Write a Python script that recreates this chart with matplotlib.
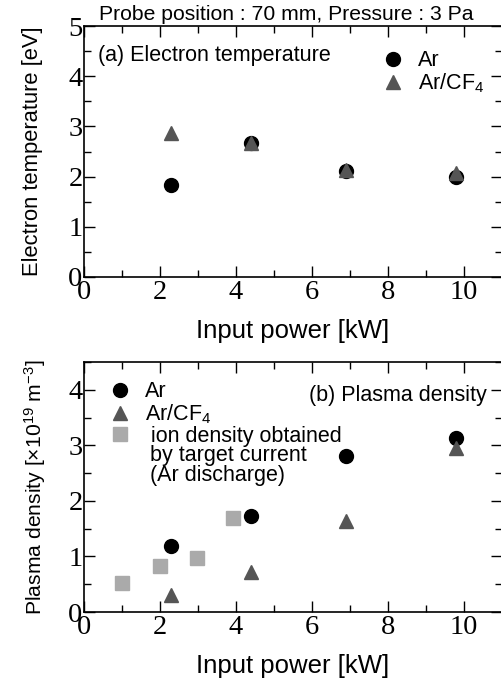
import matplotlib
matplotlib.use("Agg")
import matplotlib.pyplot as plt
from matplotlib.ticker import MultipleLocator

plt.rcParams['font.family'] = ['Liberation Sans', 'DejaVu Sans']
plt.rcParams['mathtext.fontset'] = 'custom'
plt.rcParams['mathtext.rm'] = 'Liberation Sans'
plt.rcParams['mathtext.it'] = 'Liberation Sans'
plt.rcParams['mathtext.default'] = 'regular'

# ---- data ----
power_probe = [2.3, 4.4, 6.9, 9.8]
te_ar = [1.84, 2.67, 2.11, 1.99]
te_arcf4 = [2.87, 2.67, 2.14, 2.07]

ne_ar = [1.19, 1.72, 2.80, 3.14]
ne_arcf4 = [0.30, 0.72, 1.63, 2.96]

power_target = [1.0, 2.0, 2.97, 3.92]
ni_target = [0.53, 0.82, 0.97, 1.69]

title_text = "Probe position : 70 mm, Pressure : 3 Pa"
xlabel_text = "Input power [kW]"
ylabel_top = "Electron temperature [eV]"
ylabel_bot = r"Plasma density [$\times$10$^{19}$ m$^{-3}$]"
sq_label_lines = [" ion density obtained", "by target current", "(Ar discharge)"]

c_ar = 'black'
c_cf4 = '#555555'
c_sq = '#aaaaaa'

W, H = 502, 682
fig = plt.figure(figsize=(W/100, H/100), dpi=100)
left = 84 / W
width = 418 / W
ax1 = fig.add_axes([left, 1 - 277/H, width, 251/H])
ax2 = fig.add_axes([left, 1 - 612/H, width, 250/H])

ms = 10
serif = ['Liberation Serif', 'DejaVu Serif']
fs_txt = 15.5

def style(ax, ymax):
    ax.set_xlim(0, 11)
    ax.set_ylim(0, ymax)
    ax.xaxis.set_major_locator(MultipleLocator(2))
    ax.xaxis.set_minor_locator(MultipleLocator(1))
    ax.yaxis.set_major_locator(MultipleLocator(1))
    ax.yaxis.set_minor_locator(MultipleLocator(0.5))
    ax.tick_params(which='both', direction='in', top=True, right=True, width=1.0)
    ax.tick_params(which='major', length=8)
    ax.tick_params(which='minor', length=5)
    ax.tick_params(axis='x', which='major', pad=2)
    ax.tick_params(axis='y', which='major', pad=1)
    for lab in ax.get_xticklabels() + ax.get_yticklabels():
        lab.set_fontfamily(serif)
        lab.set_fontsize(20.5)
    for s in ax.spines.values():
        s.set_linewidth(1.2)
    ax.set_xlabel(xlabel_text, fontsize=18.5, labelpad=10)

# ---- top ----
ax1.plot(power_probe, te_ar, 'o', color=c_ar, ms=ms, label='Ar', linestyle='none')
ax1.plot(power_probe, te_arcf4, '^', color=c_cf4, ms=ms, label='Ar/CF$_4$', linestyle='none')
style(ax1, 5)
ax1.set_ylabel(ylabel_top, fontsize=15.8, labelpad=18)
ax1.text(0.033, 0.884, "(a) Electron temperature", transform=ax1.transAxes, fontsize=fs_txt, va='center')
ax1.legend(loc='upper left', bbox_to_anchor=(0.682, 0.947), frameon=False, fontsize=fs_txt,
           handletextpad=0.55, labelspacing=0.02, borderpad=0, handlelength=1.2)
fig.text(286/W, 1 - 15/H, title_text, fontsize=15.2, ha='center', va='center')

# ---- bottom ----
ax2.plot(power_probe, ne_ar, 'o', color=c_ar, ms=ms, label='Ar', linestyle='none')
ax2.plot(power_probe, ne_arcf4, '^', color=c_cf4, ms=ms, label='Ar/CF$_4$', linestyle='none')
ax2.plot(power_target, ni_target, 's', color=c_sq, ms=ms, label=sq_label_lines[0], linestyle='none')
style(ax2, 4.5)
ax2.set_ylabel(ylabel_bot, fontsize=15.2, labelpad=15)
ax2.text(0.964, 0.868, "(b) Plasma density", transform=ax2.transAxes, fontsize=fs_txt, va='center', ha='right')
ax2.legend(loc='upper left', bbox_to_anchor=(0.029, 0.966), frameon=False, fontsize=fs_txt,
           handletextpad=0.55, labelspacing=0.0, borderpad=0, handlelength=1.2)
for line_text, ypix in zip(sq_label_lines[1:], [455, 476]):
    ax2.text((150 - 84) / 418, (612 - ypix) / 250, line_text,
             transform=ax2.transAxes, fontsize=fs_txt, va='center', ha='left')

fig.savefig("out.png", dpi=100)
